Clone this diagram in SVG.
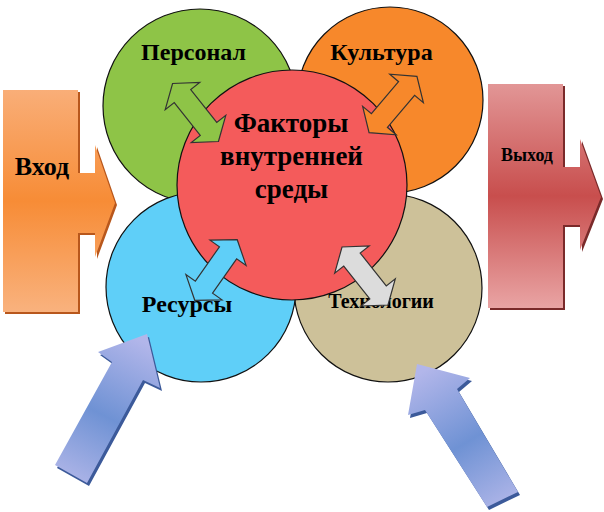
<svg xmlns="http://www.w3.org/2000/svg" width="604" height="512" viewBox="0 0 604 512">
<defs>
<linearGradient id="gIn" x1="0" y1="0" x2="0" y2="1">
<stop offset="0" stop-color="#f9ae78"/><stop offset="0.5" stop-color="#f78c36"/><stop offset="1" stop-color="#f9b27e"/>
</linearGradient>
<linearGradient id="gOut" x1="0" y1="0" x2="0" y2="1">
<stop offset="0" stop-color="#e29696"/><stop offset="0.5" stop-color="#c84e4d"/><stop offset="1" stop-color="#e9a4a4"/>
</linearGradient>
<linearGradient id="gBlueL" gradientUnits="userSpaceOnUse" x1="70" y1="475" x2="140" y2="340">
<stop offset="0" stop-color="#a9b2e6"/><stop offset="0.45" stop-color="#6f92d4"/><stop offset="1" stop-color="#b2b6ea"/>
</linearGradient>
<linearGradient id="gBlueR" gradientUnits="userSpaceOnUse" x1="503" y1="500" x2="425" y2="370">
<stop offset="0" stop-color="#a9b2e6"/><stop offset="0.45" stop-color="#6f92d4"/><stop offset="1" stop-color="#b2b6ea"/>
</linearGradient>
<polygon id="dbl" points="37,0 21,-22 21,-10.5 -21,-10.5 -21,-22 -37,0 -21,22 -21,10.5 21,10.5 21,22"/>
</defs>
<style>
.c{stroke:#111;stroke-width:1.2}
.a{stroke:#333;stroke-width:1.2;stroke-linejoin:miter}
.t{font-family:"Liberation Serif","Times New Roman",serif;font-weight:bold;fill:#000;text-anchor:middle}
</style>
<rect width="604" height="512" fill="#fff"/>

<g id="vhod">
<polygon points="5,92 80,92 80,175 97,175 97,147 117,205 97,259 97,235 80,235 80,314 5,314" fill="#b8571c"/>
<polygon points="3,90 78,90 78,173 95,173 95,145 115,203 95,257 95,233 78,233 78,312 3,312" fill="url(#gIn)"/>
<text class="t" x="42" y="175" font-size="26">Вход</text>
</g>

<g id="vyhod">
<polygon points="490,86 565,86 565,169 582,169 582,141 603,199 582,252 582,227 565,227 565,310 490,310" fill="#7a2a2a"/>
<polygon points="488,84 563,84 563,167 580,167 580,139 601,197 580,250 580,225 563,225 563,308 488,308" fill="url(#gOut)"/>
<text class="t" x="527" y="161" font-size="18">Выход</text>
</g>

<g id="personal">
<circle class="c" cx="200" cy="106" r="97" fill="#8ec447"/>
<text class="t" x="193.5" y="60" font-size="24">Персонал</text>
</g>
<g id="kultura">
<circle class="c" cx="390" cy="100" r="93" fill="#f7882b"/>
<text class="t" x="381.5" y="60" font-size="24">Культура</text>
</g>
<g id="tehnologii">
<circle class="c" cx="388" cy="288" r="94" fill="#cdc199"/>
<text class="t" x="381" y="308" font-size="20">Технологии</text>
</g>
<g id="resursy">
<circle class="c" cx="201" cy="287" r="95" fill="#5fcff8"/>
<text class="t" x="187" y="312" font-size="24">Ресурсы</text>
</g>
<g id="center">
<circle class="c" cx="292" cy="185" r="115" fill="#f45b5b"/>
<text class="t" x="291" y="132" font-size="27">Факторы</text>
<text class="t" x="291.5" y="165" font-size="27">внутренней</text>
<text class="t" x="291.5" y="198" font-size="27">среды</text>
</g>

<g id="connectors">
<use href="#dbl" class="a" fill="#8ec447" transform="translate(195.5,112.5) rotate(51.7)"/>
<use href="#dbl" class="a" fill="#f7882b" transform="translate(393,104.5) rotate(-49.7)"/>
<use href="#dbl" class="a" fill="#5fcff8" transform="translate(216,270) rotate(-55)"/>
<use href="#dbl" class="a" fill="#dcdcdc" transform="translate(365,276) rotate(51.6)"/>
<polygon points="89,486 57,468 114,365 100,355 149,337 162,391 145,383" fill="#3c5a9a"/>
<polygon points="87,483 55,465 112,362 98,352 147,334 160,388 143,380" fill="url(#gBlueL)"/>
<polygon points="520,495 489,510 427,413 410,418 419,367 472,381 459,392" fill="#3c5a9a"/>
<polygon points="518,492 487,507 425,410 408,415 417,364 470,378 457,389" fill="url(#gBlueR)"/>
</g>
</svg>
